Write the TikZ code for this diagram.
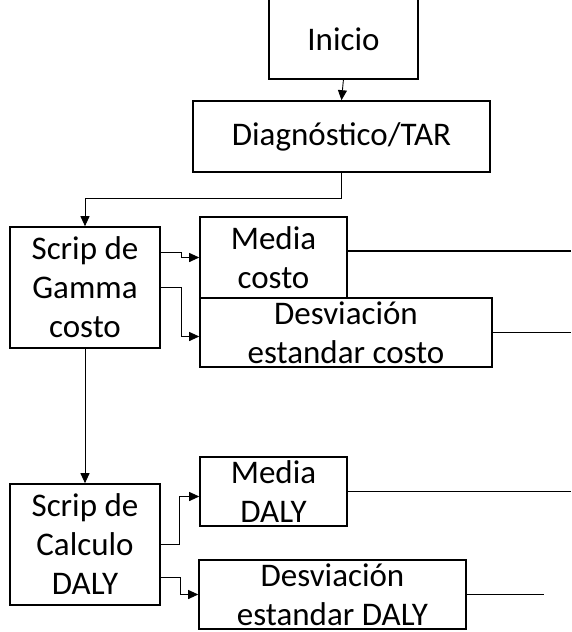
\documentclass[tikz,border=0pt]{standalone}
\usepackage{fontspec}
\setmainfont{Carlito}
\usetikzlibrary{arrows.meta}
\begin{document}
\begin{tikzpicture}[x=1pt,y=-1pt,
    box/.style = {draw, line width=1.6pt, inner sep=0pt, align=center, font=\fontsize{33}{39}\selectfont},
    arr/.style = {line width=0.9pt, -{Triangle[length=10pt,width=9pt]}},
    outline/.style = {line width=1.4pt}]
  \useasboundingbox (0,0) rectangle (571,632);
  % boxes
  \node[box, draw=none, minimum width=147pt, minimum height=78pt](inicio) at (343.5,39) {Inicio};
  \draw[line width=1.6pt] (inicio.north west) |- (inicio.south east) -- (inicio.north east);
  \node[box, minimum width=297pt, minimum height=71pt](diag) at (341.5,136.5) {Diagnóstico/TAR};
  \node[box, minimum width=150pt, minimum height=121pt](gamma) at (85,287.5) {Scrip de\\Gamma\\costo};
  \node[box, minimum width=147pt, minimum height=81pt](mediac) at (273.5,257.5) {Media\\costo};
  \node[box, minimum width=292pt, minimum height=69pt](desvc) at (346,332.5) {Desviación\\estandar costo};
  \node[box, minimum width=150pt, minimum height=121pt](calc) at (85,544.5) {Scrip de\\Calculo\\DALY};
  \node[box, minimum width=147pt, minimum height=69pt](mediad) at (273.5,491.5) {Media\\DALY};
  \node[box, minimum width=267pt, minimum height=69pt](desvd) at (332.5,594.5) {Desviación\\estandar DALY};
  \coordinate (endmc) at (571,251);
  \coordinate (enddc) at (571,332.5);
  \coordinate (endmd) at (571,491.5);
  \coordinate (enddd) at (544,594.5);

  % connectors
  \draw[arr] (inicio.south) -- (diag.north);
  \draw[arr] (diag.south) -- ++(0,26) -| (gamma.north);
  \draw[arr] ([yshift=35pt]gamma.east) -- ++(21,0) |- (mediac.west);
  \draw[arr] (gamma.east) -- ++(21,0) |- ([yshift=-4pt]desvc.west);
  \draw[arr] (gamma.south) -- (calc.north);
  \draw[arr] (calc.east) -- ++(19,0) |- ([yshift=-5pt]mediad.west);
  \draw[arr] ([yshift=-33pt]calc.east) -- ++(20,0) |- (desvd.west);
  \draw[outline] ([yshift=6.5pt]mediac.east) -- (endmc);
  \draw[outline] (desvc.east) -- (enddc);
  \draw[outline] (mediad.east) -- (endmd);
  \draw[outline] (desvd.east) -- (enddd);
\end{tikzpicture}
\end{document}
